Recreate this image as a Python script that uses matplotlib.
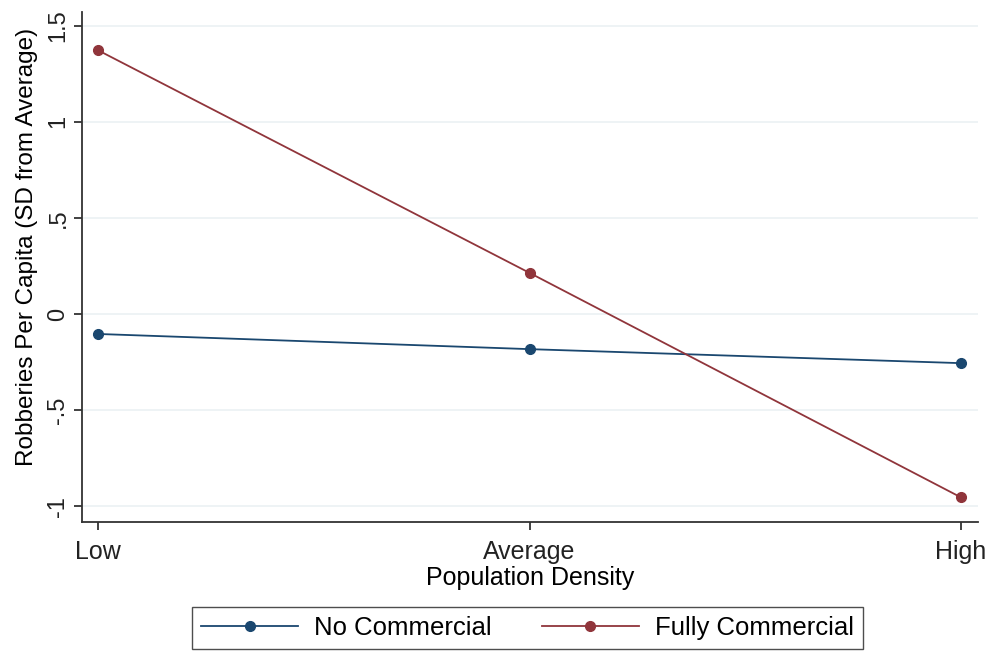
import matplotlib.pyplot as plt

plt.rcParams['font.family'] = ['Liberation Sans', 'DejaVu Sans']

density = ["Low", "Average", "High"]
no_commercial = [-0.104, -0.183, -0.256]
fully_commercial = [1.373, 0.214, -0.955]
y_ticks = [-1, -0.5, 0, 0.5, 1, 1.5]
y_labels = ["-1", "-.5", "0", ".5", "1", "1.5"]

navy = "#1a476f"
maroon = "#90353b"

fig = plt.figure(figsize=(9.9, 6.55), dpi=100)
ax = fig.add_axes([0.0828, 0.203, 0.905, 0.779])

x = range(len(density))
ax.plot(x, no_commercial, color=navy, lw=1.3, marker="o", ms=7,
        label="No Commercial")
ax.plot(x, fully_commercial, color=maroon, lw=1.3, marker="o", ms=7,
        label="Fully Commercial")

ax.set_xlim(-0.037, 2.039)
ax.set_ylim(-1.083, 1.573)
ax.set_xticks(list(x))
ax.set_xticklabels(density, fontsize=18)
ax.set_yticks(y_ticks)
ax.set_yticklabels(y_labels, fontsize=17, rotation=90, va="center")
ax.set_xlabel("Population Density", fontsize=18)
ax.xaxis.set_label_coords(0.5, -0.087)
ax.set_ylabel("Robberies Per Capita (SD from Average)", fontsize=17.5)
ax.yaxis.set_label_coords(-0.049, 0.539)

ax.grid(axis="y", color="#ebf1f3", lw=1.2)
ax.set_axisbelow(True)
for side in ["top", "right"]:
    ax.spines[side].set_visible(False)
for side in ["left", "bottom"]:
    ax.spines[side].set_color("#333333")
    ax.spines[side].set_linewidth(1.3)
ax.tick_params(color="#333333", width=1.3, length=6, labelcolor="#222222")
ax.tick_params(axis="x", pad=7)
ax.tick_params(axis="y", pad=3)

fig.legend(loc="center", bbox_to_anchor=(0.533, 0.041), ncol=2,
           fontsize=18.5, frameon=True, fancybox=False, edgecolor="#222222",
           handlelength=3.75, handletextpad=0.64, columnspacing=1.96,
           borderpad=0.35)

fig.savefig("out.png", dpi=100)
